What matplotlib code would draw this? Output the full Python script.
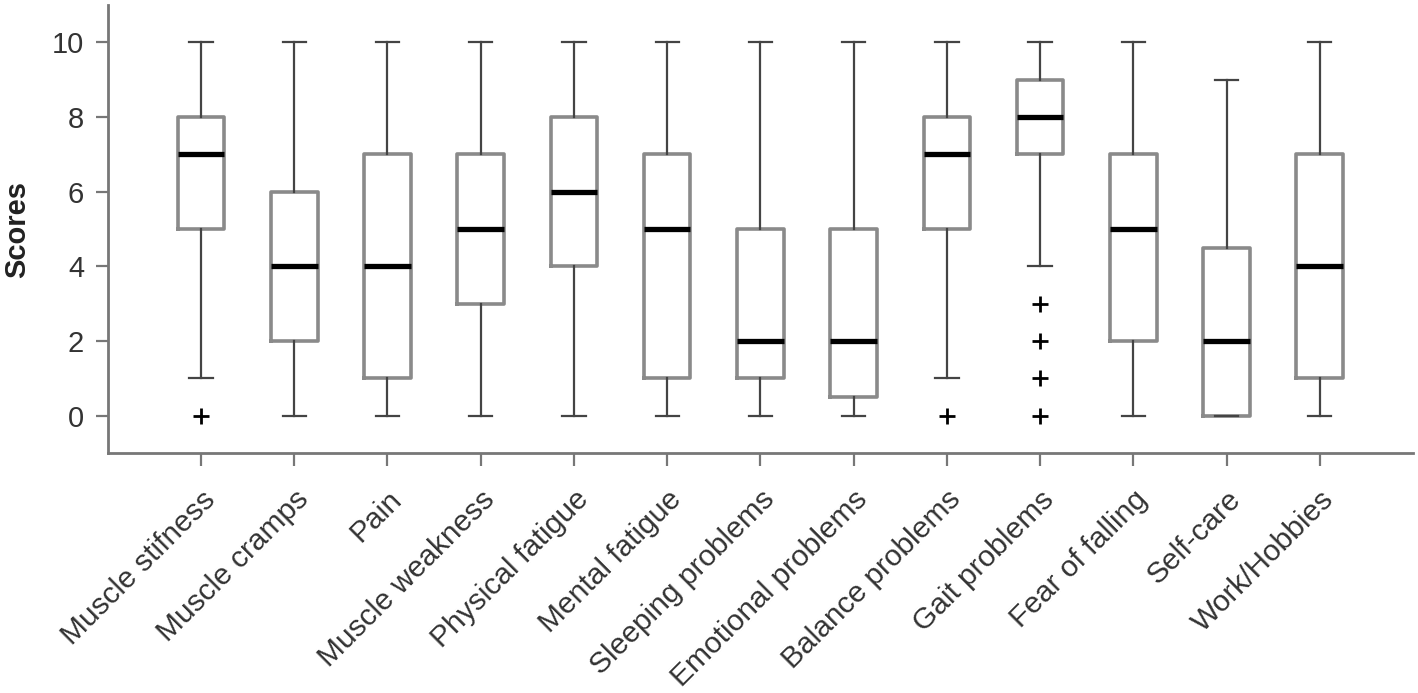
import matplotlib
matplotlib.use("Agg")
import matplotlib.pyplot as plt
from matplotlib.transforms import ScaledTranslation

plt.rcParams['font.family'] = ['Liberation Sans', 'DejaVu Sans']

categories = ["Muscle stifness", "Muscle cramps", "Pain", "Muscle weakness",
              "Physical fatigue", "Mental fatigue", "Sleeping problems",
              "Emotional problems", "Balance problems", "Gait problems",
              "Fear of falling", "Self-care", "Work/Hobbies"]
whislo = [1, 0, 0, 0, 0, 0, 0, 0, 1, 4, 0, 0, 0]
q1 =     [5, 2, 1, 3, 4, 1, 1, 0.5, 5, 7, 2, 0, 1]
med =    [7, 4, 4, 5, 6, 5, 2, 2, 7, 8, 5, 2, 4]
q3 =     [8, 6, 7, 7, 8, 7, 5, 5, 8, 9, 7, 4.5, 7]
whishi = [10, 10, 10, 10, 10, 10, 10, 10, 10, 10, 10, 9, 10]
fliers = [[0], [], [], [], [], [], [], [], [0], [3, 2, 1, 0], [], [], []]
yticks = [0, 2, 4, 6, 8, 10]

stats = []
for i, c in enumerate(categories):
    stats.append(dict(label=c, whislo=whislo[i], q1=q1[i], med=med[i],
                      q3=q3[i], whishi=whishi[i], fliers=fliers[i]))

fig = plt.figure(figsize=(14.18, 6.93), dpi=100)
ax = fig.add_axes([0.076, 0.346, 0.9205, 0.647])

ax.bxp(stats, positions=range(1, len(categories) + 1), widths=0.5,
       boxprops=dict(color='#8a8a8a', linewidth=2.6),
       whiskerprops=dict(color='#444444', linewidth=1.6),
       capprops=dict(color='#444444', linewidth=1.6),
       medianprops=dict(color='black', linewidth=3.8),
       flierprops=dict(marker='+', markeredgecolor='black', markersize=11,
                       markeredgewidth=2, linestyle='none'),
       capwidths=0.25)

ax.set_xlim(0, 14)
ax.set_ylim(-1, 11)
ax.set_yticks(yticks)
ax.set_xticks(range(1, len(categories) + 1))
ax.set_xticklabels(categories, rotation=45, ha='right', rotation_mode='anchor',
                   fontsize=21.5)
offset = ScaledTranslation(5 / 100, -1 / 100, fig.dpi_scale_trans)
for lbl in ax.get_xticklabels():
    lbl.set_transform(lbl.get_transform() + offset)
for s in ['top', 'right']:
    ax.spines[s].set_visible(False)
for s in ['left', 'bottom']:
    ax.spines[s].set_color('#777777')
    ax.spines[s].set_linewidth(2)
ax.tick_params(axis='both', direction='out', length=9, width=1.6,
               color='#777777', labelcolor='#333333')
ax.tick_params(axis='x', pad=14)
ax.tick_params(axis='y', pad=8, labelsize=21)
ax.set_ylabel('Scores', fontsize=21, fontweight='bold', color='#222222')
ax.yaxis.set_label_coords(-0.0585, 0.5)

fig.savefig('out.png', dpi=100)
